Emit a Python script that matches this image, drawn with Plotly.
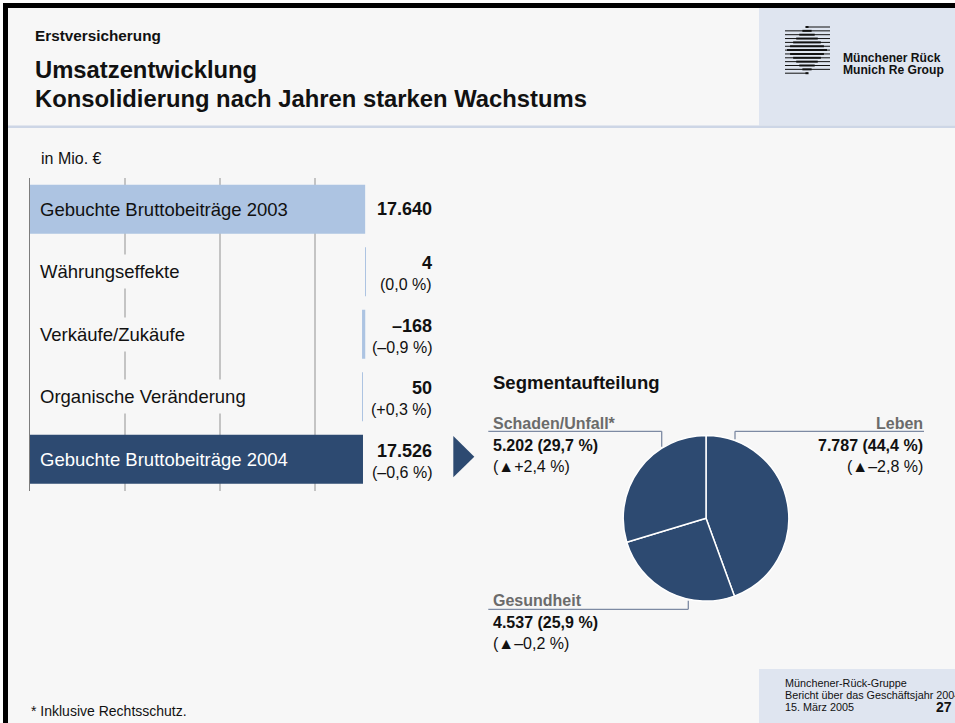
import plotly.graph_objects as go

# Umsatzentwicklung Erstversicherung, in Mio. €
rows = ["Gebuchte Bruttobeiträge 2003", "Währungseffekte", "Verkäufe/Zukäufe",
        "Organische Veränderung", "Gebuchte Bruttobeiträge 2004"]
amounts = [17640, 4, -168, 50, 17526]
kinds = ["absolute", "relative", "relative", "relative", "total"]
changes = ["", "(0,0 %)", "(–0,9 %)", "(+0,3 %)", "(–0,6 %)"]

# Segmentaufteilung 2004
segments = ["Leben", "Gesundheit", "Schaden/Unfall*"]
segment_values = [7787, 4537, 5202]
segment_shares = ["44,4 %", "25,9 %", "29,7 %"]
segment_changes = ["▲–2,8 %", "▲–0,2 %", "▲+2,4 %"]

W, H = 955, 723
NAVY = "#2d4a71"
LIGHT = "#adc4e2"
BG = "#f7f7f7"
FONT = "Arial, Liberation Sans, sans-serif"


def px(x):
    return x / W


def py(y):
    return 1 - y / H


def de_num(v):
    s = f"{abs(v):,}".replace(",", ".")
    return ("–" + s) if v < 0 else s


# waterfall bases
bases, lengths = [], []
running = 0
for a, k in zip(amounts, kinds):
    if k in ("absolute", "total"):
        bases.append(0)
        lengths.append(a)
        running = a
    else:
        bases.append(min(running, running + a))
        lengths.append(abs(a))
        running += a

bar_colors = [NAVY if k == "total" else LIGHT for k in kinds]

fig = go.Figure()
fig.add_trace(go.Bar(
    y=list(range(len(rows))), x=lengths, base=bases, orientation="h",
    marker=dict(color=bar_colors, line=dict(width=0)), width=0.784,
    hovertext=rows, hoverinfo="text+x", showlegend=False,
))

fig.add_trace(go.Pie(
    labels=segments, values=segment_values, sort=False, direction="clockwise",
    rotation=0, textinfo="none", showlegend=False,
    marker=dict(colors=[NAVY] * 3, line=dict(color="white", width=1.5)),
    domain=dict(x=[px(623.2), px(788.8)], y=[py(601.1), py(435.5)]),
))

ann = []


def text(x, y, s, size, color="#111111", bold=False, anchor="left", **kw):
    ann.append(dict(
        x=px(x), y=py(y), xref="paper", yref="paper", text=f"<b>{s}</b>" if bold else s,
        showarrow=False, xanchor=anchor, yanchor="middle",
        font=dict(size=size, color=color, family=FONT), **kw))


# header
text(33, 35, "Erstversicherung", 15.3, bold=True)
text(33, 69, "Umsatzentwicklung", 23.8, bold=True)
text(33, 98.5, "Konsolidierung nach Jahren starken Wachstums", 23.8, bold=True)
text(841, 58, "Münchener Rück", 12.1, bold=True)
text(841, 70, "Munich Re Group", 12.1, bold=True)
text(39, 158, "in Mio. €", 16)

# row labels and values
for i, (name, k) in enumerate(zip(rows, kinds)):
    ann.append(dict(
        x=px(33), y=i, xref="paper", yref="y", text=name, showarrow=False,
        xanchor="left", yanchor="middle", borderpad=6,
        bgcolor=BG if k == "relative" else "rgba(0,0,0,0)",
        font=dict(size=18.5, color="white" if k == "total" else "#111111", family=FONT)))
    ann.append(dict(
        x=px(433.5), y=i, xref="paper", yref="y", text=f"<b>{de_num(amounts[i])}</b>",
        showarrow=False, xanchor="right", yanchor="middle",
        yshift=0 if not changes[i] else 8.5,
        font=dict(size=18, color="#111111", family=FONT)))
    if changes[i]:
        ann.append(dict(
            x=px(433.5), y=i, xref="paper", yref="y", text=changes[i],
            showarrow=False, xanchor="right", yanchor="middle", yshift=-13,
            font=dict(size=16, color="#111111", family=FONT)))

# pie labels
GRAY = "#6b6b6b"
LINE = "#7d8aa3"
text(490.5, 382.7, "Segmentaufteilung", 18.5, bold=True)
label_pos = {
    "Leben": (925, 423.3, "right"),
    "Gesundheit": (490.5, 600.3, "left"),
    "Schaden/Unfall*": (490.5, 423.3, "left"),
}
for name, v, share, chg in zip(segments, segment_values, segment_shares, segment_changes):
    x, y, a = label_pos[name]
    text(x, y, name, 16, color=GRAY, bold=True, anchor=a)
    text(x, y + 22, f"{de_num(v)} ({share})", 16, bold=True, anchor=a)
    text(x, y + 43, f"({chg})", 16, anchor=a)

# footer
text(29, 710.5, "* Inklusive Rechtsschutz.", 14)
text(783, 683, "Münchener-Rück-Gruppe", 10.8)
text(783, 695, "Bericht über das Geschäftsjahr 2004", 10.8)
text(783, 706.5, "15. März 2005", 10.8)
text(954, 706.5, "27", 14, bold=True, anchor="right")

shapes = []


def rect(x0, y0, x1, y1, color, layer="below"):
    shapes.append(dict(type="rect", xref="paper", yref="paper", x0=px(x0), x1=px(x1),
                       y0=py(y1), y1=py(y0), fillcolor=color, line=dict(width=0), layer=layer))


def line(x0, y0, x1, y1, color, width=1.3):
    shapes.append(dict(type="line", xref="paper", yref="paper", x0=px(x0), x1=px(x1),
                       y0=py(y0), y1=py(y1), line=dict(color=color, width=width)))


rect(759, 8, 955, 125.5, "#dfe5f0")
rect(8, 125.5, 955, 128, "#cdd6e6")
rect(759, 669, 955, 723, "#dfe5f0")
rect(0, 0, 955, 3, "white")
rect(0, 0, 3, 723, "white")
rect(3, 3, 955, 8, "black", "above")
rect(3, 3, 8, 723, "black", "above")

# logo
for i in range(13):
    y = 27 + i * 3.85
    a = 785 if i > 0 else 806
    b = 830 if i < 12 else 808
    line(a, y, b, y, "#111111", 1.0)
    hw = 20 * (1 - abs(i - 6) / 6.5)
    if hw > 1:
        line(807 - hw, y, 807 + hw, y, "#111111", 2.0)

# leader lines
line(488.3, 431.3, 661.7, 431.3, LINE)
line(661.7, 431.3, 661.7, 446.7, LINE)
line(735, 431.3, 924, 431.3, LINE)
line(735, 431.3, 735, 439.3, LINE)
line(488.3, 609.3, 688.3, 609.3, LINE)
line(688.3, 609.3, 688.3, 600.7, LINE)

# arrow
shapes.append(dict(
    type="path", xref="paper", yref="paper",
    path=f"M {px(453.3)},{py(436)} L {px(474.3)},{py(456.7)} L {px(453.3)},{py(477.3)} Z",
    fillcolor=NAVY, line=dict(width=0)))

scale = 0.019  # px per Mio. €
fig.update_layout(
    width=W, height=H, autosize=False, margin=dict(l=0, r=0, t=0, b=0),
    paper_bgcolor=BG, plot_bgcolor="rgba(0,0,0,0)",
    font=dict(family=FONT),
    xaxis=dict(domain=[px(30), px(400)], range=[0, 370 / scale], dtick=5000,
               showgrid=True, gridcolor="#c4c4c4", gridwidth=1.5, zeroline=False,
               showticklabels=False, ticks="", fixedrange=True),
    yaxis=dict(domain=[py(490.5), py(178)], range=[4.5, -0.5], showgrid=False,
               zeroline=False, showline=True, linecolor="#7d7d7d", linewidth=1,
               showticklabels=False, ticks="", fixedrange=True),
    annotations=ann, shapes=shapes, bargap=0.2,
)

fig.write_html(
    "out.html",
    config={"displayModeBar": False},
    post_script="document.body.style.margin='0';document.body.style.overflow='hidden';"
                "document.documentElement.style.overflow='hidden';",
)
